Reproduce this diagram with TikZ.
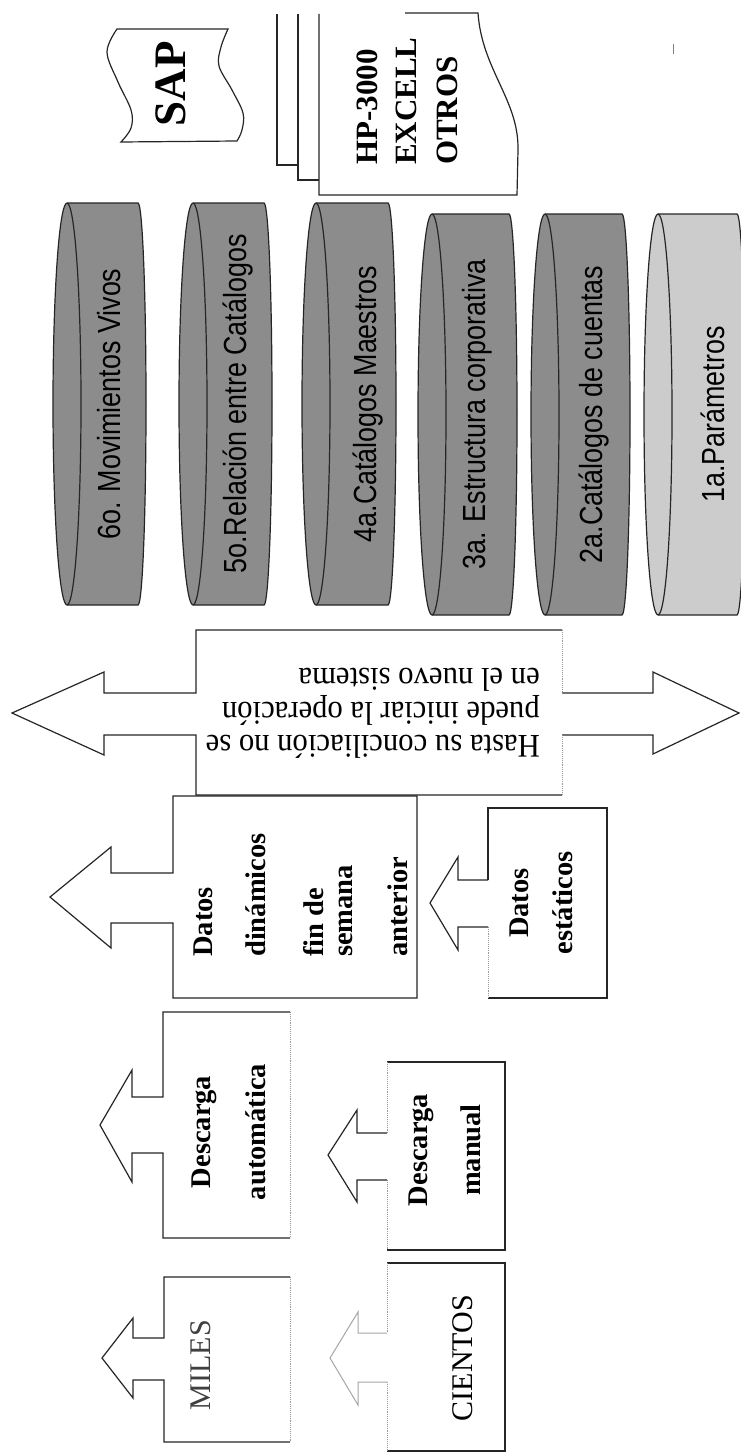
\documentclass[tikz,border=0pt]{standalone}
\usepackage{fontspec}
\setmainfont{Liberation Serif}
\newfontfamily\drumfont{Liberation Sans}
\definecolor{drumdark}{gray}{0.55}
\definecolor{drumlight}{gray}{0.80}
% drum: name, front-centre x, back x, top, bottom, fill, label baseline x, label
\newcommand\drawdrum[8]{%
  \pgfmathsetmacro\drumb{(#5-#4)/2}%
  \pgfmathsetmacro\drumcy{(#5+#4)/2}%
  \path[outline, fill=#6] (#2,#4) -- (#3,#4)
    arc[start angle=-90, end angle=90, x radius=8, y radius=\drumb]
    -- (#2,#5)
    arc[start angle=90, end angle=270, x radius=14, y radius=\drumb] -- cycle;
  \draw[outline] (#2,#4) arc[start angle=-90, end angle=90, x radius=14, y radius=\drumb];
  \node[drumlabel] (#1) at (#7,\drumcy) {#8};
}
\begin{document}
\begin{tikzpicture}[x=1pt, y=-1pt,
  outline/.style={draw=black!85, line width=1.2pt, line join=miter},
  faint/.style={draw=black!40, line width=0.9pt, densely dotted},
  lightarrow/.style={draw=black!35, line width=1pt},
  drumlabel/.style={rotate=90, anchor=base, inner sep=0pt, xscale=0.84,
    font=\drumfont\fontsize{32}{36}\selectfont},
  saplabel/.style={rotate=90, anchor=base, inner sep=0pt,
    font=\bfseries\fontsize{45}{50}\selectfont},
  doclabel/.style={rotate=90, anchor=base west, inner sep=0pt,
    font=\bfseries\fontsize{31}{34}\selectfont},
  boxlabel/.style={rotate=90, anchor=base, inner sep=0pt,
    font=\bfseries\fontsize{28.5}{32}\selectfont},
  boxlabelleft/.style={boxlabel, anchor=base west},
  countlabel/.style={rotate=90, anchor=base, inner sep=0pt,
    font=\fontsize{30}{34}\selectfont},
  notelabel/.style={rotate=180, anchor=base west, inner sep=0pt, xscale=0.93,
    font=\fontsize{33}{36}\selectfont}
]
\useasboundingbox[fill=white] (0,0) rectangle (740,1453);

% ---- source systems ----
\path[outline, fill=white]
  plot[smooth, tension=0.6] coordinates {(117,29) (107,52) (118,82) (131,110) (131,128) (121,142)}
  -- plot[smooth, tension=0.6] coordinates {(237,141) (242,130) (243,113) (232,90) (219,66) (221,47) (228,29)}
  -- cycle;
\node[saplabel] (sap) at (185,84) {SAP};

\draw[outline] (277,14) -- (277,165) -- (298,165);
\draw[outline] (298,14) -- (298,180) -- (319,180);
\draw[outline] (319,14) -- (319,195) -- (517,195) -- (518,150)
  .. controls (519,100) and (482,70) .. (478,13) -- (405,13);
\node[doclabel] (hp) at (377,165) {HP-3000};
\node[doclabel] (excell) at (416,165) {EXCELL};
\node[doclabel] (otros) at (457,165) {OTROS};

\draw[black!50, line width=1pt] (673,44) -- (673,54);

% ---- data stages ----
\drawdrum{d6}{67}{138}{203}{605}{drumdark}{120}{6o. Movimientos Vivos}
\drawdrum{d5}{193}{264}{203}{605}{drumdark}{246}{5o.Relación entre Catálogos}
\drawdrum{d4}{316}{388}{203}{605}{drumdark}{376}{4a.Catálogos Maestros}
\drawdrum{d3}{432}{509}{214}{615}{drumdark}{485}{3a. Estructura corporativa}
\drawdrum{d2}{545}{622}{214}{615}{drumdark}{602}{2a.Catálogos de cuentas}
\drawdrum{d1}{658}{737}{214}{615}{drumlight}{724}{1a.Parámetros}

% ---- reconciliation double arrow ----
\draw[outline] (562,693) -- (653,693) -- (653,672) -- (739,713) -- (653,754)
  -- (653,735) -- (562,735)
  (562,795) -- (196,795) -- (196,735) -- (104,735) -- (104,755) -- (12,713)
  -- (104,672) -- (104,693) -- (196,693) -- (196,630) -- (562,630);
\draw[faint] (562,630) -- (562,693) (562,735) -- (562,795);
\node[notelabel] (note1) at (540,735) {Hasta su conciliación no se};
\node[notelabel] (note2) at (540,702) {puede iniciar la operación};
\node[notelabel] (note3) at (540,668) {en el nuevo sistema};

% ---- dynamic data ----
\draw[outline] (173,873) -- (173,796) -- (417,796) -- (417,998) -- (173,998)
  -- (173,923) -- (111,923) -- (111,948) -- (50,897) -- (111,847) -- (111,873) -- cycle;
\node[boxlabelleft] (dyn1) at (212,957) {Datos};
\node[boxlabelleft] (dyn2) at (265,957) {dinámicos};
\node[boxlabelleft] (dyn3) at (323,957) {fin de};
\node[boxlabelleft] (dyn4) at (352,957) {semana};
\node[boxlabelleft] (dyn5) at (407,957) {anterior};

% ---- static data ----
\draw[outline] (488,880) -- (488,808) -- (607,808) -- (607,998) -- (488,998);
\draw[faint] (488,998) -- (488,927);
\draw[outline] (488,927) -- (458,927) -- (458,950) -- (430,903) -- (458,857)
  -- (458,880) -- (488,880);
\node[boxlabel] (stat1) at (528,903) {Datos};
\node[boxlabel] (stat2) at (572,903) {estáticos};

% ---- automatic download ----
\draw[outline] (290,1012) -- (163,1012) -- (163,1097) -- (132,1097) -- (132,1070)
  -- (100,1125) -- (132,1182) -- (132,1153) -- (163,1153) -- (163,1238) -- (290,1238);
\draw[faint] (290,1012) -- (290,1238);
\node[boxlabel] (auto1) at (210,1132) {Descarga};
\node[boxlabel] (auto2) at (265,1132) {automática};

% ---- manual download ----
\draw[outline] (387,1062) -- (505,1062) -- (505,1250) -- (387,1250);
\draw[faint] (387,1062) -- (387,1133) (387,1180) -- (387,1250);
\draw[outline] (387,1133) -- (357,1133) -- (357,1110) -- (328,1155) -- (357,1202)
  -- (357,1180) -- (387,1180);
\node[boxlabel] (man1) at (427,1150) {Descarga};
\node[boxlabel] (man2) at (480,1150) {manual};

% ---- volumes ----
\draw[outline] (290,1277) -- (164,1277) -- (164,1338) -- (133,1338) -- (133,1318)
  -- (102,1358) -- (133,1398) -- (133,1380) -- (164,1380) -- (164,1442) -- (290,1442);
\draw[faint] (290,1277) -- (290,1442);
\node[countlabel, text=black!75] (miles) at (210,1365) {MILES};

\draw[outline] (387,1451) -- (505,1451) -- (505,1263) -- (387,1263);
\draw[faint] (387,1263) -- (387,1333) (387,1382) -- (387,1451);
\draw[lightarrow] (387,1333) -- (358,1333) -- (358,1312) -- (330,1358) -- (358,1405)
  -- (358,1382) -- (387,1382);
\node[countlabel] (cientos) at (472,1358) {CIENTOS};
\end{tikzpicture}
\end{document}
